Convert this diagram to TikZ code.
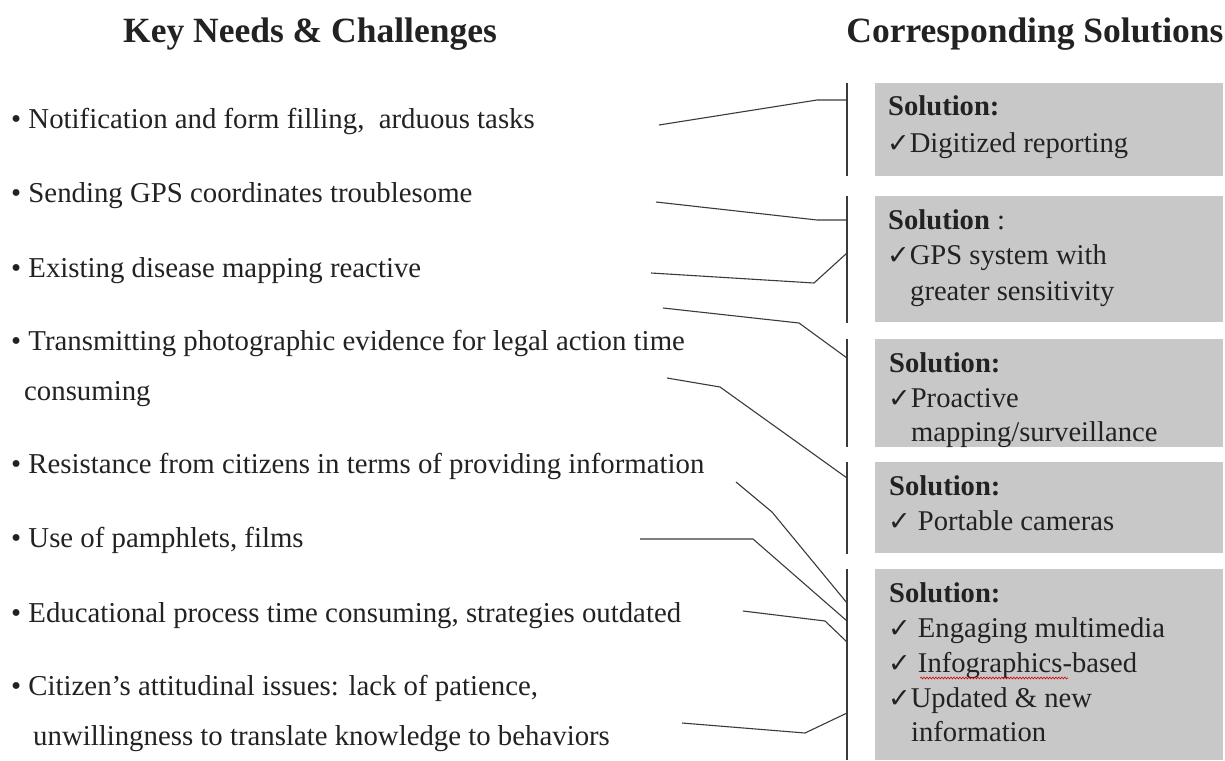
\documentclass[tikz,border=0pt]{standalone}
\usepackage{fontspec}
\setmainfont{Liberation Serif}
\newfontfamily\cond{Liberation Serif}
\newfontfamily\sym{DejaVu Sans}
\usetikzlibrary{decorations.pathmorphing}
\definecolor{txt}{HTML}{222222}
\definecolor{boxgray}{HTML}{C8C8C8}
\definecolor{linec}{HTML}{3A3A3A}
\newcommand{\ck}{{\sym\fontsize{27}{27}\selectfont ✓}}
\tikzset{
  lefttxt/.style={anchor=base west, inner sep=0pt, text=txt, font=\cond\fontsize{28.8}{28.8}\selectfont},
  titletxt/.style={anchor=base, inner sep=0pt, text=txt, font=\bfseries\fontsize{35.5}{35.5}\selectfont},
  soltxt/.style={anchor=base west, inner sep=0pt, text=txt, font=\fontsize{28.6}{28.6}\selectfont},
  solhead/.style={soltxt, font=\bfseries\fontsize{28.6}{28.6}\selectfont},
  solbox/.style={fill=boxgray, draw=none, anchor=north west, inner sep=0pt, minimum width=348pt},
  bracket/.style={draw=linec, line width=1.3pt},
  link/.style={draw=linec, line width=1.1pt, line join=round},
}
\begin{document}
\begin{tikzpicture}[x=1pt,y=-1pt]
\useasboundingbox (0,0) rectangle (1225,760);
% titles
\node[titletxt] (t1) at (310,42) {Key Needs \& Challenges};
\node[titletxt] (t2) at (1035,42) {Corresponding Solutions};
% left items
\node[lefttxt] (n1) at (11,128) {• Notification and form filling,\ \ arduous tasks};
\node[lefttxt] (n2) at (11,202) {• Sending GPS coordinates troublesome};
\node[lefttxt] (n3) at (11,277) {• Existing disease mapping reactive};
\node[lefttxt] (n4) at (11,350) {• Transmitting photographic evidence for legal action time};
\node[lefttxt] (n4b) at (24,400) {consuming};
\node[lefttxt] (n5) at (11,473) {• Resistance from citizens in terms of providing information};
\node[lefttxt] (n6) at (11,547) {• Use of pamphlets, films};
\node[lefttxt] (n7) at (11,622) {• Educational process time consuming, strategies outdated};
\node[lefttxt] (n8) at (11,695) {• Citizen’s attitudinal issues: lack of patience,};
\node[lefttxt] (n8b) at (33,745) {unwillingness to translate knowledge to behaviors};
% solution boxes
\node[solbox, minimum height=93pt] (b1) at (875,83) {};
\node[solbox, minimum height=126pt] (b2) at (875,196) {};
\node[solbox, minimum height=108pt] (b3) at (875,339) {};
\node[solbox, minimum height=91pt] (b4) at (875,462) {};
\node[solbox, minimum height=191pt] (b5) at (875,569) {};
% box texts
\node[solhead] (h1) at (888,115) {Solution:};
\node[soltxt] (l1) at (887,152) {\ck Digitized reporting};
\node[solhead] (h2) at (888,229) {Solution {\mdseries :}};
\node[soltxt] (l2) at (887,264) {\ck GPS system with};
\node[soltxt] (l2b) at (910,300) {greater sensitivity};
\node[solhead] (h3) at (889,372) {Solution:};
\node[soltxt] (l3) at (888,407) {\ck Proactive};
\node[soltxt] (l3b) at (911,441) {mapping/surveillance};
\node[solhead] (h4) at (889,495) {Solution:};
\node[soltxt] (l4) at (888,530) {\ck\ Portable cameras};
\node[solhead] (h5) at (889,602) {Solution:};
\node[soltxt] (l5a) at (888,637) {\ck\ Engaging multimedia};
\node[soltxt] (l5b) at (888,672) {\ck\ Infographics-based};
\node[soltxt] (l5c) at (888,707) {\ck Updated \& new};
\node[soltxt] (l5d) at (911,741) {information};
% spell-check underline
\coordinate (w1) at (920,678);
\coordinate (w2) at (1068,678);
\draw[red!85!black, line width=0.6pt, decorate, decoration={snake, segment length=3pt, amplitude=0.9pt}] (w1) -- (w2);
% brackets
\coordinate (ta) at (847,83);  \coordinate (ba) at (847,176);
\coordinate (tb) at (847,196); \coordinate (bb) at (847,323);
\coordinate (tc) at (847,339); \coordinate (bc) at (847,447);
\coordinate (td) at (847,462); \coordinate (bd) at (847,554);
\coordinate (te) at (847,569); \coordinate (be) at (847,760);
\draw[bracket] (ta) -- (ba);
\draw[bracket] (tb) -- (bb);
\draw[bracket] (tc) -- (bc);
\draw[bracket] (td) -- (bd);
\draw[bracket] (te) -- (be);
% connectors
\coordinate (s1) at (659,125); \coordinate (k1) at (817,100); \coordinate (e1) at (847,100);
\coordinate (s2) at (656,202); \coordinate (k2) at (817,220); \coordinate (e2) at (847,220);
\coordinate (s3) at (651,273); \coordinate (k3) at (814,283); \coordinate (e3) at (847,253);
\coordinate (s4) at (663,308); \coordinate (k4) at (799,323); \coordinate (e4) at (847,358);
\coordinate (s5) at (667,378); \coordinate (k5) at (720,387); \coordinate (e5) at (847,478);
\coordinate (s6) at (736,482); \coordinate (k6) at (772,512); \coordinate (e6) at (847,603);
\coordinate (s7) at (640,539); \coordinate (k7) at (753,539); \coordinate (e7) at (847,621);
\coordinate (s8) at (743,611); \coordinate (k8) at (825,621); \coordinate (e8) at (847,642);
\coordinate (s9) at (682,723); \coordinate (k9) at (805,733); \coordinate (e9) at (847,713);
\foreach \i in {1,...,9} {\draw[link] (s\i) -- (k\i) -- (e\i);}
\end{tikzpicture}
\end{document}
